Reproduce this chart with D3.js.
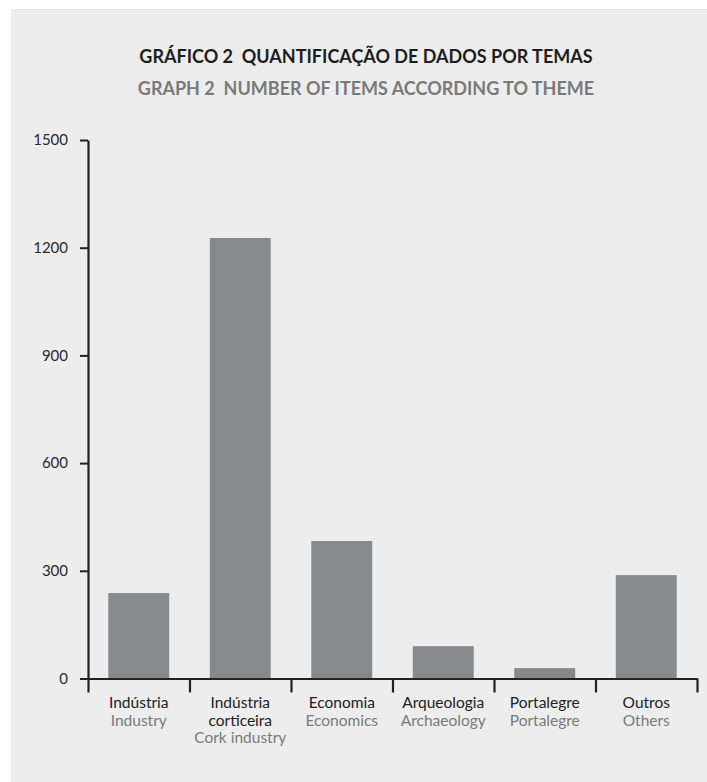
<!DOCTYPE html>
<html>
<head>
<meta charset="utf-8">
<script src="https://cdn.jsdelivr.net/npm/d3@7"></script>
<style>
  body { margin: 0; background: #ffffff; }
  text { font-family: Lato, "DejaVu Sans", sans-serif; }
  .title { white-space: pre; }
</style>
</head>
<body>
<div id="chart"></div>
<script>
// chart size
let svgWidth = 707;
let svgHeight = 782;

// data
let categoriesPt = ["Indústria", "Indústria\ncorticeira", "Economia", "Arqueologia", "Portalegre", "Outros"];
let categoriesEn = ["Industry", "Cork industry", "Economics", "Archaeology", "Portalegre", "Others"];
let counts = [238, 1227, 383, 90, 29, 288];
let yTicks = [0, 300, 600, 900, 1200, 1500];

let titlePt = "GRÁFICO 2  QUANTIFICAÇÃO DE DADOS POR TEMAS";
let titleEn = "GRAPH 2  NUMBER OF ITEMS ACCORDING TO THEME";

// plot area
let plot = { left: 88, right: 697, top: 140, bottom: 678.5 };

let svg = d3.select("#chart")
    .append("svg")
    .attr("width", svgWidth)
    .attr("height", svgHeight);

// grey panel
svg.append("rect")
    .attr("x", 11)
    .attr("y", 9)
    .attr("width", svgWidth - 11)
    .attr("height", svgHeight - 9)
    .attr("fill", "#ecedec");

// titles
svg.append("text")
    .attr("class", "title")
    .attr("x", 366)
    .attr("y", 63)
    .attr("text-anchor", "middle")
    .attr("font-size", "18px")
    .attr("font-weight", "bold")
    .attr("fill", "#1e1e1e")
    .text(titlePt);

svg.append("text")
    .attr("class", "title")
    .attr("x", 366)
    .attr("y", 95)
    .attr("text-anchor", "middle")
    .attr("font-size", "18px")
    .attr("font-weight", "bold")
    .attr("fill", "#7a7a7a")
    .text(titleEn);

let data = categoriesPt.map((c, i) => ({ pt: c, en: categoriesEn[i], value: counts[i] }));

let xBand = d3.scaleBand()
    .domain(categoriesPt)
    .range([plot.left, plot.right])
    .paddingInner(0.4)
    .paddingOuter(0.2);

let xEdges = d3.scaleLinear()
    .domain([0, categoriesPt.length])
    .range([plot.left, plot.right]);

let yLinearScale = d3.scaleLinear()
    .domain([0, 1500])
    .range([plot.bottom, plot.top]);

// bars
svg.selectAll("rect.bar")
    .data(data)
    .enter()
    .append("rect")
    .attr("class", "bar")
    .attr("x", d => xBand(d.pt))
    .attr("y", d => yLinearScale(d.value))
    .attr("width", xBand.bandwidth())
    .attr("height", d => yLinearScale(0) - yLinearScale(d.value))
    .attr("fill", "#88898c");

// y axis
let leftAxis = d3.axisLeft(yLinearScale)
    .tickValues(yTicks)
    .tickSize(8)
    .tickSizeOuter(0)
    .tickPadding(12)
    .tickFormat(d3.format("d"));

let yAxisG = svg.append("g")
    .attr("transform", `translate(${plot.left}, 0)`)
    .call(leftAxis);

yAxisG.select(".domain").attr("stroke", "#222").attr("stroke-width", 2.2);
yAxisG.selectAll(".tick line").attr("stroke", "#222").attr("stroke-width", 2);
yAxisG.selectAll(".tick text")
    .attr("font-size", "15px")
    .attr("font-family", "Lato, sans-serif")
    .attr("fill", "#2a2a2a");

// x axis, ticks at category boundaries
let bottomAxis = d3.axisBottom(xEdges)
    .tickValues(d3.range(categoriesPt.length + 1))
    .tickSize(14)
    .tickSizeOuter(0)
    .tickFormat("");

let xAxisG = svg.append("g")
    .attr("transform", `translate(0, ${plot.bottom})`)
    .call(bottomAxis);

xAxisG.select(".domain").attr("stroke", "#222").attr("stroke-width", 2.2);
xAxisG.selectAll(".tick line").attr("stroke", "#222").attr("stroke-width", 2.2);

// category labels
let labels = svg.selectAll("g.catLabel")
    .data(data)
    .enter()
    .append("g")
    .attr("class", "catLabel")
    .attr("transform", d => `translate(${xBand(d.pt) + xBand.bandwidth() / 2}, 0)`);

labels.each(function(d) {
    let g = d3.select(this);
    let ptLines = d.pt.split("\n");
    let yPos = 708;
    ptLines.forEach(function(line) {
        g.append("text")
            .attr("y", yPos)
            .attr("text-anchor", "middle")
            .attr("font-size", "15.5px")
            .attr("fill", "#222")
            .text(line);
        yPos += 17.5;
    });
    g.append("text")
        .attr("y", yPos)
        .attr("text-anchor", "middle")
        .attr("font-size", "15.5px")
        .attr("fill", "#7a7a7a")
        .text(d.en);
});
</script>
</body>
</html>
